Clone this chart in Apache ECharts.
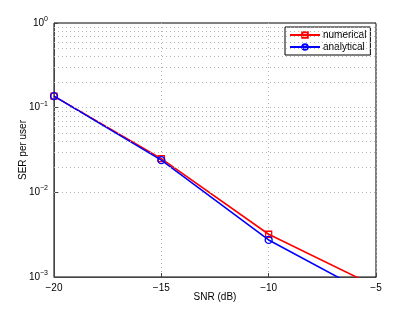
<!DOCTYPE html>
<html><head><meta charset="utf-8">
<script src="https://cdn.jsdelivr.net/npm/echarts@6/dist/echarts.min.js"></script>
<style>html,body{margin:0;padding:0;background:#fff}#c{width:415px;height:313px}</style>
</head><body><div id="c"></div>
<script>
const snr = [-20, -15, -10, -5];
const numerical = [0.137, 0.0250, 0.00320, 0.00077];
const analytical = [0.137, 0.0240, 0.00274, 0.00057];
const xTicks = [-20, -15, -10, -5];
const seriesNames = ['numerical', 'analytical'];

const FONT = 'Liberation Sans';
const minorGrid = [];
for (let k = -3; k <= -1; k++) {
  for (let m = 1; m <= 9; m++) {
    const v = m * Math.pow(10, k);
    if (v > 0.001 && v < 1) minorGrid.push({ yAxis: v });
  }
}
const fmtNum = v => (v < 0 ? '\u2212' + Math.abs(v) : '' + v);

const chart = echarts.init(document.getElementById('c'), null, { renderer: 'canvas' });
chart.setOption({
  animation: false,
  backgroundColor: '#fff',
  textStyle: { fontFamily: FONT },
  grid: { left: 54, right: 39, top: 23, bottom: 36, show: true, borderColor: '#000', borderWidth: 1 },
  legend: {
    data: seriesNames,
    orient: 'vertical',
    left: 285, top: 27,
    backgroundColor: '#fff',
    borderColor: '#000', borderWidth: 1, borderRadius: 0,
    padding: [3, 4, 3, 4],
    itemGap: 2,
    itemWidth: 30, itemHeight: 7,
    textStyle: { fontFamily: FONT, fontSize: 10, color: '#000', padding: [0, 0, 0, -2] }
  },
  xAxis: {
    type: 'value', min: -20, max: -5, interval: 5,
    name: 'SNR (dB)', nameLocation: 'middle', nameGap: 15, nameMoveOverlap: false,
    nameTextStyle: { fontFamily: FONT, fontSize: 10, color: '#000' },
    axisLine: { show: true, lineStyle: { color: '#444', width: 1 } },
    axisTick: { show: true, inside: true, length: 4, lineStyle: { color: '#444' } },
    axisLabel: { fontFamily: FONT, fontSize: 10, color: '#000', margin: 6, formatter: v => fmtNum(v),
      customValues: xTicks },
    splitLine: { show: true, lineStyle: { color: '#b4b4b4', type: [1, 3], width: 1 } }
  },
  yAxis: {
    type: 'log', min: 0.001, max: 1, logBase: 10,
    name: 'SER per user', nameLocation: 'middle', nameGap: 26, nameMoveOverlap: false,
    nameTextStyle: { fontFamily: FONT, fontSize: 10, color: '#000' },
    axisLine: { show: true, lineStyle: { color: '#444', width: 1 } },
    axisTick: { show: true, inside: true, length: 4, lineStyle: { color: '#444' } },
    axisLabel: {
      fontFamily: FONT, color: '#000', margin: 6,
      formatter: v => {
        const e = Math.round(Math.log10(v));
        return '{b|10}{e|' + (e < 0 ? '\u2212' + (-e) : e) + '}';
      },
      rich: {
        b: { fontFamily: FONT, fontSize: 10, color: '#000' },
        e: { fontFamily: FONT, fontSize: 7, color: '#000', verticalAlign: 'bottom', padding: [0, 0, 8, 0] }
      }
    },
    splitLine: { show: false }
  },
  series: [
    {
      name: seriesNames[0], type: 'line',
      data: snr.map((x, i) => [x, numerical[i]]),
      color: '#ff0000',
      lineStyle: { color: '#ff0000', width: 1.6 },
      symbol: 'rect', symbolSize: 6, showAllSymbol: true,
      itemStyle: { color: 'rgba(255,255,255,0)', borderColor: '#ff0000', borderWidth: 1.3 },
      clip: true, z: 3,
      markLine: {
        silent: true, symbol: 'none', animation: false,
        label: { show: false },
        lineStyle: { color: '#b4b4b4', type: [1, 3], width: 1 },
        emphasis: { disabled: true },
        data: minorGrid
      }
    },
    {
      name: seriesNames[1], type: 'line',
      data: snr.map((x, i) => [x, analytical[i]]),
      color: '#0000ff',
      lineStyle: { color: '#0000ff', width: 1.6 },
      symbol: 'circle', symbolSize: 7, showAllSymbol: true,
      itemStyle: { color: 'rgba(255,255,255,0)', borderColor: '#0000ff', borderWidth: 1.3 },
      clip: true, z: 4
    }
  ]
});
</script></body></html>
